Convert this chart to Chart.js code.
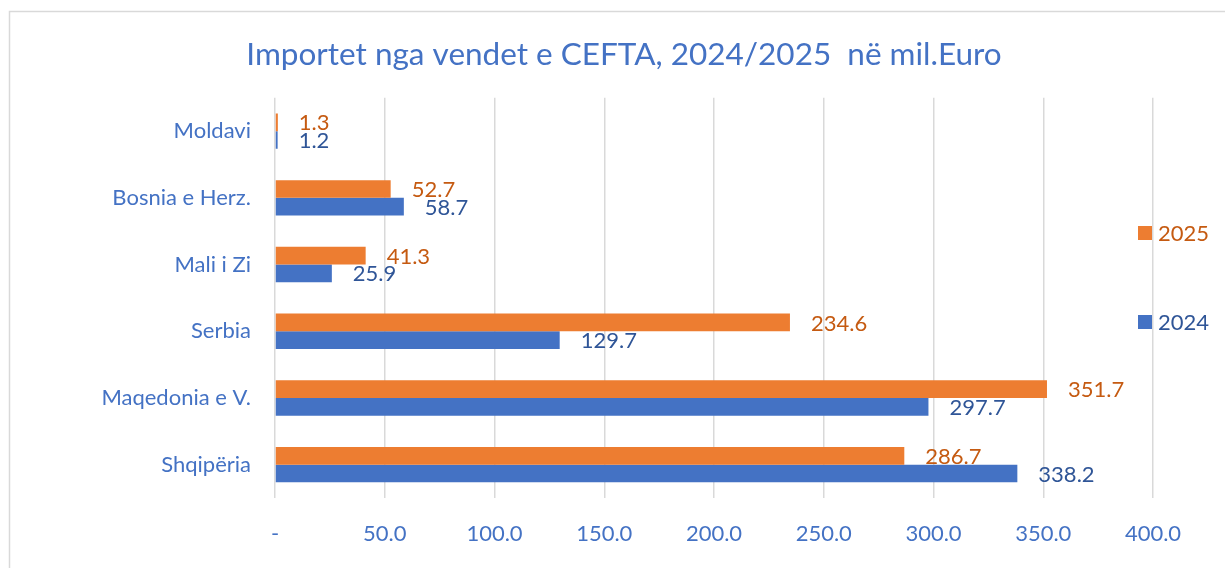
<!DOCTYPE html>
<html>
<head>
<meta charset="utf-8">
<script src="https://cdn.jsdelivr.net/npm/chart.js@4.4.0/dist/chart.umd.min.js"></script>
<style>
  html, body { margin: 0; padding: 0; background: #fff; }
  #wrap { position: absolute; left: 0; top: 0; width: 1225px; height: 568px; }
</style>
</head>
<body>
<div id="wrap"><canvas id="chart" width="1225" height="568"></canvas></div>
<script>
// data
const countries = ['Moldavi', 'Bosnia e Herz.', 'Mali i Zi', 'Serbia', 'Maqedonia e V.', 'Shqipëria'];
const imports2025 = [1.3, 52.7, 41.3, 234.6, 351.7, 286.7];
const imports2024 = [1.2, 58.7, 25.9, 129.7, 297.7, 338.2];
const xTicks = [0, 50, 100, 150, 200, 250, 300, 350, 400];

const FONT = 'Lato, "Open Sans", sans-serif';
const BLUE = '#4472C4';
const ORANGE = '#ED7D31';

// frame around the chart, like the excel chart box
const framePlugin = {
    id: 'frame',
    beforeDraw(chart) {
        let ctx = chart.ctx;
        ctx.save();
        ctx.strokeStyle = '#d9d9d9';
        ctx.lineWidth = 1.5;
        ctx.strokeRect(9.5, 11.5, 1400, 800);
        ctx.restore();
    }
};

// value labels right of each bar
const valueLabels = {
    id: 'valueLabels',
    afterDatasetsDraw(chart) {
        let ctx = chart.ctx;
        ctx.save();
        ctx.font = '22px ' + FONT;
        ctx.textBaseline = 'middle';
        ctx.textAlign = 'left';
        chart.data.datasets.forEach((ds, i) => {
            let meta = chart.getDatasetMeta(i);
            meta.data.forEach((bar, j) => {
                ctx.fillStyle = ds.labelColor;
                ctx.fillText(ds.data[j].toFixed(1), bar.x + 21, bar.y + 1);
            });
        });
        ctx.restore();
    }
};

// legend on the right side, two items far apart
const sideLegend = {
    id: 'sideLegend',
    afterDraw(chart) {
        let ctx = chart.ctx;
        let ys = [233, 322];
        ctx.save();
        ctx.font = '22px ' + FONT;
        ctx.textBaseline = 'middle';
        chart.data.datasets.forEach((ds, i) => {
            ctx.fillStyle = ds.backgroundColor;
            ctx.fillRect(1138, ys[i] - 7, 14, 14);
            ctx.fillStyle = ds.labelColor;
            ctx.fillText(ds.label, 1158, ys[i] + 1);
        });
        ctx.restore();
    }
};

const data = {
    labels: countries,
    datasets: [
        {
            label: '2025',
            data: imports2025,
            backgroundColor: ORANGE,
            labelColor: '#C55A11',
            categoryPercentage: 0.53,
            barPercentage: 1.0
        },
        {
            label: '2024',
            data: imports2024,
            backgroundColor: BLUE,
            labelColor: '#2F5597',
            categoryPercentage: 0.53,
            barPercentage: 1.0
        }
    ]
};

const config = {
    type: 'bar',
    data: data,
    options: {
        indexAxis: 'y',
        responsive: false,
        animation: false,
        layout: { padding: { left: 95, right: 72, top: 0, bottom: 0 } },
        plugins: {
            legend: { display: false },
            tooltip: { enabled: false },
            title: {
                display: true,
                text: 'Importet nga vendet e CEFTA, 2024/2025  në mil.Euro',
                color: BLUE,
                font: { family: FONT, size: 31.5, weight: 'normal' },
                padding: { top: 36, bottom: 24 }
            }
        },
        scales: {
            x: {
                min: 0,
                max: 400,
                afterBuildTicks(scale) {
                    scale.ticks = xTicks.map(v => ({ value: v }));
                },
                afterFit(scale) { scale.height = 70; },
                grid: { color: '#d9d9d9', lineWidth: 1.5, drawTicks: false },
                border: { display: false },
                ticks: {
                    color: BLUE,
                    padding: 23,
                    font: { family: FONT, size: 22 },
                    callback: v => v === 0 ? '-' : v.toFixed(1)
                }
            },
            y: {
                afterFit(scale) { scale.width = 180; },
                grid: { display: false },
                border: { display: false },
                ticks: {
                    color: BLUE,
                    padding: 16,
                    font: { family: FONT, size: 22 }
                }
            }
        }
    },
    plugins: [framePlugin, valueLabels, sideLegend]
};

let ctx = document.getElementById('chart').getContext('2d');
new Chart(ctx, config);
</script>
</body>
</html>
